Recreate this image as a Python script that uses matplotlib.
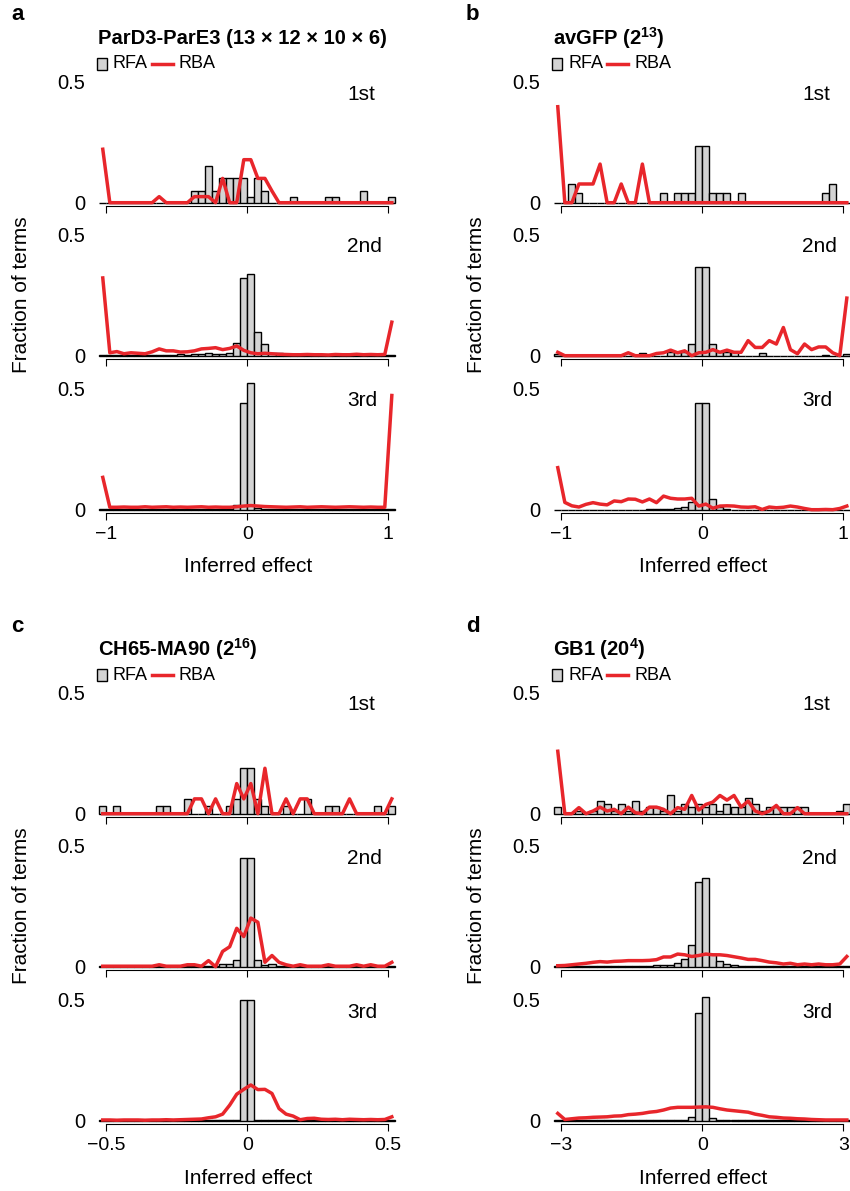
import matplotlib
matplotlib.use('Agg')
import matplotlib.pyplot as plt
from matplotlib.patches import Rectangle
from matplotlib.lines import Line2D
import numpy as np

plt.rcParams['font.family'] = ['Liberation Sans', 'DejaVu Sans']
plt.rcParams['mathtext.default'] = 'regular'

# ---- data: 42 bins per panel, fraction of terms ----
orders = ['1st', '2nd', '3rd']
panel_letters = ['a', 'b', 'c', 'd']
panel_titles = ['ParD3-ParE3 (13 \u00d7 12 \u00d7 10 \u00d7 6)',
                'avGFP (2$^{13}$)', 'CH65-MA90 (2$^{16}$)', 'GB1 (20$^{4}$)']
x_limits = [1, 1, 0.5, 3]
x_ticklabels = [['\u22121', '0', '1'], ['\u22121', '0', '1'],
                ['\u22120.5', '0', '0.5'], ['\u22123', '0', '3']]

# ParD3-ParE3
a1_rfa = [0, 0, 0, 0, 0, 0, 0, 0, 0, 0, 0, 0, 0, 0.05, 0.05, 0.15, 0.05, 0.1, 0.1, 0.1, 0.1,
          0.025, 0.1, 0.05, 0, 0, 0, 0.025, 0, 0, 0, 0, 0.025, 0.025, 0, 0, 0, 0.05, 0, 0, 0, 0.025]
a1_rba = [0.22, 0, 0, 0, 0, 0, 0, 0, 0.025, 0, 0, 0, 0, 0.025, 0.025, 0.025, 0, 0.1, 0, 0, 0.177,
          0.177, 0.1, 0.1, 0.048, 0, 0, 0, 0, 0, 0, 0, 0, 0, 0, 0, 0, 0, 0, 0, 0, 0]
a2_rfa = [0.003, 0.002, 0.002, 0.002, 0.002, 0.002, 0.002, 0.002, 0.002, 0.002, 0.004, 0.005, 0.003,
          0.005, 0.008, 0.01, 0.006, 0.008, 0.012, 0.052, 0.32, 0.337, 0.096, 0.048, 0.012, 0.01,
          0.006, 0.004, 0.002, 0.002, 0.002, 0.002, 0.002, 0.002, 0.002, 0.002, 0.002, 0.002, 0.002,
          0.002, 0.002, 0.002]
a2_rba = [0.32, 0.012, 0.017, 0.008, 0.012, 0.01, 0.008, 0.016, 0.028, 0.02, 0.02, 0.015, 0.016,
          0.02, 0.028, 0.03, 0.033, 0.025, 0.03, 0.04, 0.022, 0.012, 0.008, 0.01, 0.008, 0.006, 0.005,
          0.004, 0.004, 0.005, 0.004, 0.004, 0.003, 0.005, 0.004, 0.004, 0.006, 0.004, 0.005, 0.004,
          0.005, 0.138]
a3_rfa = [0.002, 0.002, 0.002, 0.002, 0.002, 0.002, 0.002, 0.002, 0.002, 0.002, 0.002, 0.002, 0.002,
          0.002, 0.002, 0.002, 0.002, 0.002, 0.004, 0.02, 0.44, 0.52, 0.006, 0.004, 0.003, 0.002,
          0.002, 0.002, 0.002, 0.002, 0.002, 0.002, 0.002, 0.002, 0.002, 0.002, 0.002, 0.002, 0.002,
          0.002, 0.002, 0.002]
a3_rba = [0.133, 0.01, 0.01, 0.011, 0.01, 0.01, 0.012, 0.01, 0.011, 0.012, 0.01, 0.011, 0.01, 0.011,
          0.012, 0.01, 0.011, 0.01, 0.01, 0.012, 0.015, 0.017, 0.015, 0.013, 0.012, 0.011, 0.01,
          0.011, 0.012, 0.01, 0.011, 0.012, 0.011, 0.01, 0.011, 0.012, 0.011, 0.01, 0.011, 0.01,
          0.01, 0.47]

# avGFP
b1_rfa = [0, 0, 0.077, 0.039, 0, 0, 0, 0, 0, 0, 0, 0, 0, 0, 0, 0.039, 0, 0.039, 0.039, 0.039, 0.235,
          0.235, 0.039, 0.039, 0.039, 0, 0.039, 0, 0, 0, 0, 0, 0, 0, 0, 0, 0, 0, 0.039, 0.077, 0, 0]
b1_rba = [0.395, 0, 0, 0.077, 0.077, 0.077, 0.159, 0, 0, 0.077, 0, 0, 0.159, 0, 0, 0, 0, 0, 0, 0,
          0, 0, 0, 0, 0, 0, 0, 0, 0, 0, 0, 0, 0, 0, 0, 0, 0, 0, 0, 0, 0, 0]
b2_rfa = [0.008, 0, 0, 0.004, 0, 0, 0, 0, 0, 0, 0, 0, 0.01, 0, 0, 0, 0.016, 0.016, 0.016, 0.048,
          0.364, 0.364, 0.048, 0.016, 0.016, 0.016, 0, 0, 0, 0.01, 0, 0, 0, 0, 0, 0, 0, 0, 0.004, 0,
          0, 0.008]
b2_rba = [0.014, 0, 0, 0, 0, 0, 0, 0, 0, 0, 0.012, 0, 0, 0, 0.009, 0.012, 0.023, 0.012, 0.02, 0,
          0.012, 0.014, 0.025, 0.014, 0.023, 0.014, 0.014, 0.062, 0.034, 0.034, 0.062, 0.048, 0.116,
          0.025, 0.008, 0.048, 0.025, 0.036, 0.036, 0.012, 0, 0.237]
b3_rfa = [0, 0, 0, 0, 0, 0, 0, 0, 0, 0, 0, 0, 0, 0.003, 0.003, 0.003, 0.003, 0.005, 0.01, 0.033,
          0.44, 0.44, 0.042, 0.01, 0.004, 0, 0, 0, 0, 0, 0, 0, 0, 0, 0, 0, 0, 0, 0, 0, 0, 0]
b3_rba = [0.173, 0.03, 0.016, 0.011, 0.022, 0.029, 0.023, 0.02, 0.036, 0.033, 0.044, 0.043, 0.032,
          0.044, 0.029, 0.056, 0.047, 0.044, 0.044, 0.047, 0.015, 0.023, 0.006, 0.015, 0.016, 0.015,
          0.011, 0.01, 0.012, 0.001, 0.011, 0.008, 0.01, 0.015, 0.011, 0.005, 0.0, 0.0, 0.001, 0.0,
          0.005, 0.015]

# CH65-MA90
c1_rfa = [0.03, 0, 0.03, 0, 0, 0, 0, 0, 0.03, 0.03, 0, 0, 0.06, 0, 0, 0.03, 0, 0, 0.03, 0.06, 0.19,
          0.19, 0.06, 0.03, 0, 0, 0.03, 0, 0, 0.06, 0, 0, 0.03, 0.03, 0, 0, 0, 0, 0, 0.03, 0, 0.03]
c1_rba = [0, 0, 0, 0, 0, 0, 0, 0, 0, 0, 0, 0, 0, 0.061, 0.061, 0, 0.061, 0, 0, 0.124, 0.061, 0.124,
          0, 0.187, 0, 0, 0.061, 0, 0.061, 0.061, 0, 0, 0, 0, 0, 0.061, 0, 0, 0, 0, 0, 0.061]
c2_rfa = [0.002, 0.002, 0.002, 0.002, 0.002, 0.002, 0.002, 0.002, 0.002, 0.002, 0.002, 0.002, 0.002,
          0.002, 0.002, 0.002, 0.002, 0.011, 0.011, 0.027, 0.448, 0.448, 0.027, 0.005, 0.011, 0.003,
          0.002, 0.002, 0.002, 0.002, 0.002, 0.002, 0.002, 0.002, 0.002, 0.002, 0.002, 0.002, 0.002,
          0.002, 0.002, 0.002]
c2_rba = [0.002, 0.002, 0.002, 0.002, 0.002, 0.002, 0.002, 0.002, 0.008, 0.002, 0.002, 0.002, 0.008,
          0.008, 0.002, 0.025, 0.0, 0.063, 0.082, 0.158, 0.124, 0.2, 0.183, 0.018, 0.046, 0.018,
          0.008, 0.002, 0.008, 0.002, 0.002, 0.002, 0.008, 0.002, 0.002, 0.002, 0.008, 0.002, 0.008,
          0.002, 0.002, 0.018]
c3_rfa = [0.001, 0.001, 0.001, 0.001, 0.001, 0.001, 0.001, 0.001, 0.001, 0.001, 0.001, 0.001, 0.001,
          0.001, 0.001, 0.001, 0.001, 0.001, 0.001, 0.004, 0.497, 0.497, 0.004, 0.001, 0.001, 0.001,
          0.001, 0.001, 0.001, 0.001, 0.001, 0.001, 0.001, 0.001, 0.001, 0.001, 0.001, 0.001, 0.001,
          0.001, 0.001, 0.001]
c3_rba = [0.003, 0.003, 0.002, 0.003, 0.003, 0.003, 0.002, 0.003, 0.003, 0.004, 0.003, 0.004, 0.005,
          0.006, 0.007, 0.012, 0.016, 0.027, 0.064, 0.109, 0.129, 0.147, 0.128, 0.129, 0.112, 0.05,
          0.027, 0.019, 0.004, 0.009, 0.01, 0.006, 0.005, 0.006, 0.004, 0.006, 0.005, 0.004, 0.005,
          0.004, 0.005, 0.016]

# GB1
d1_rfa = [0.026, 0, 0, 0.013, 0, 0.013, 0.053, 0.039, 0.013, 0.039, 0.013, 0.053, 0.013, 0.026,
          0.026, 0.013, 0.079, 0.013, 0.039, 0.026, 0.039, 0.026, 0.039, 0.013, 0.039, 0.026, 0.026,
          0.066, 0.039, 0.013, 0.026, 0.026, 0.026, 0.026, 0.026, 0.026, 0, 0, 0, 0, 0.013, 0.039]
d1_rba = [0.257, 0, 0, 0.025, 0, 0.011, 0.027, 0.011, 0.018, 0, 0.027, 0.004, 0, 0.027, 0.027,
          0.018, 0, 0.025, 0.018, 0.075, 0.015, 0.038, 0.048, 0.075, 0.056, 0.075, 0.027, 0.052,
          0.011, 0, 0.011, 0.034, 0, 0, 0.025, 0, 0, 0, 0, 0, 0, 0]
d2_rfa = [0.001, 0.001, 0.001, 0.001, 0.001, 0.001, 0.001, 0.001, 0.001, 0.001, 0.001, 0.001, 0.003,
          0.004, 0.005, 0.006, 0.008, 0.015, 0.03, 0.09, 0.35, 0.363, 0.053, 0.022, 0.011, 0.006,
          0.004, 0.003, 0.001, 0.001, 0.001, 0.001, 0.001, 0.001, 0.001, 0.001, 0.001, 0.001, 0.001,
          0.001, 0.001, 0.001]
d2_rba = [0.004, 0.005, 0.008, 0.011, 0.014, 0.018, 0.021, 0.019, 0.022, 0.023, 0.025, 0.025, 0.025,
          0.026, 0.029, 0.04, 0.04, 0.052, 0.049, 0.042, 0.046, 0.052, 0.049, 0.049, 0.046, 0.041,
          0.036, 0.03, 0.03, 0.025, 0.019, 0.016, 0.011, 0.014, 0.008, 0.011, 0.008, 0.011, 0.008,
          0.008, 0.011, 0.042]
d3_rfa = [0.001, 0.001, 0.001, 0.001, 0.001, 0.001, 0.001, 0.001, 0.001, 0.001, 0.001, 0.001, 0.001,
          0.001, 0.001, 0.001, 0.001, 0.002, 0.003, 0.014, 0.445, 0.51, 0.012, 0.003, 0.002, 0.001,
          0.001, 0.001, 0.001, 0.001, 0.001, 0.001, 0.001, 0.001, 0.001, 0.001, 0.001, 0.001, 0.001,
          0.001, 0.001, 0.001]
d3_rba = [0.03, 0.005, 0.008, 0.011, 0.012, 0.014, 0.015, 0.016, 0.019, 0.02, 0.025, 0.027, 0.03,
          0.035, 0.038, 0.044, 0.052, 0.055, 0.055, 0.055, 0.056, 0.057, 0.055, 0.049, 0.044, 0.041,
          0.038, 0.035, 0.027, 0.022, 0.016, 0.014, 0.011, 0.01, 0.008, 0.007, 0.005, 0.004, 0.003,
          0.003, 0.003, 0.003]

rfa_data = [[a1_rfa, a2_rfa, a3_rfa], [b1_rfa, b2_rfa, b3_rfa],
            [c1_rfa, c2_rfa, c3_rfa], [d1_rfa, d2_rfa, d3_rfa]]
rba_data = [[a1_rba, a2_rba, a3_rba], [b1_rba, b2_rba, b3_rba],
            [c1_rba, c2_rba, c3_rba], [d1_rba, d2_rba, d3_rba]]

# ---- layout (pixels) ----
W, H = 850, 1191
fig = plt.figure(figsize=(W / 100, H / 100), dpi=100)
red = '#e8262b'
grey = '#d3d3d3'
fs = 15

offsets = [(0, 0), (455, 0), (0, 611), (455, 611)]
row_base = [202.7, 355.7, 509.7]
yunit = 243.0
tick_lo, tick_hi = 106.3, 388.3
ax_left, ax_right = 96, 399
ytop = 0.56


def fx(x):
    return x / W


def fy(y):
    return 1 - y / H


for p in range(4):
    dx, dy = offsets[p]
    lim = x_limits[p]
    xunit = (tick_hi - tick_lo) / (2 * lim)
    edges = np.linspace(-1.05 * lim, 1.05 * lim, 43)
    centers = (edges[:-1] + edges[1:]) / 2
    width = edges[1] - edges[0]
    xlo = -lim - (tick_lo - ax_left) / xunit
    xhi = lim + (ax_right - tick_hi) / xunit
    for r in range(3):
        base = row_base[r] + dy
        top = base - ytop * yunit
        ax = fig.add_axes([fx(ax_left + dx), fy(base), fx(ax_right - ax_left), (base - top) / H])
        ax.patch.set_visible(False)
        ax.bar(centers, rfa_data[p][r], width=width, color=grey, edgecolor='black',
               linewidth=1.0, clip_on=False, zorder=2)
        ax.plot(centers, rba_data[p][r], color=red, lw=2.5, clip_on=False, zorder=3)
        ax.set_xlim(xlo, xhi)
        ax.set_ylim(0, ytop)
        for s in ['top', 'right', 'left']:
            ax.spines[s].set_visible(False)
        ax.spines['bottom'].set_position(('outward', 2.5))
        ax.spines['bottom'].set_bounds(-lim, lim)
        ax.spines['bottom'].set_linewidth(0.8)
        ax.set_xticks([-lim, 0, lim])
        ax.set_yticks([0, 0.5])
        ax.set_yticklabels(['0', '0.5'])
        ax.tick_params(axis='x', direction='out', length=5, width=0.8, labelsize=14, pad=4)
        ax.tick_params(axis='y', length=0, labelsize=14.5, pad=8)
        if r == 2:
            ax.set_xticklabels(x_ticklabels[p])
        else:
            ax.set_xticklabels([])
        fig.text(fx(347 + dx), fy(base - 108.7), orders[r], fontsize=fs, ha='left', va='center')

    # panel letter, title, legend
    fig.text(fx(11 + dx), fy(15 + dy), panel_letters[p], fontsize=16, fontweight='bold',
             ha='left', va='center')
    fig.text(fx(98 + dx), fy(38 + dy), panel_titles[p], fontsize=14.5, fontweight='bold',
             ha='left', va='center')
    fig.add_artist(Rectangle((fx(97 + dx), fy(70 + dy)), 10 / W, 12 / H, transform=fig.transFigure,
                             facecolor=grey, edgecolor='black', linewidth=1.0))
    fig.text(fx(113 + dx), fy(64 + dy), 'RFA', fontsize=13, ha='left', va='center')
    fig.add_artist(Line2D([fx(152 + dx), fx(173 + dx)], [fy(64 + dy), fy(64 + dy)],
                          transform=fig.transFigure, color=red, lw=2.5))
    fig.text(fx(179 + dx), fy(64 + dy), 'RBA', fontsize=13, ha='left', va='center')

    # axis labels
    fig.text(fx(22 + dx), fy(row_base[1] + dy - 60.75), 'Fraction of terms', fontsize=fs,
             rotation=90, ha='center', va='center')
    fig.text(fx(248 + dx), fy(567 + dy), 'Inferred effect', fontsize=fs, ha='center', va='center')

fig.savefig('out.png', dpi=100)
